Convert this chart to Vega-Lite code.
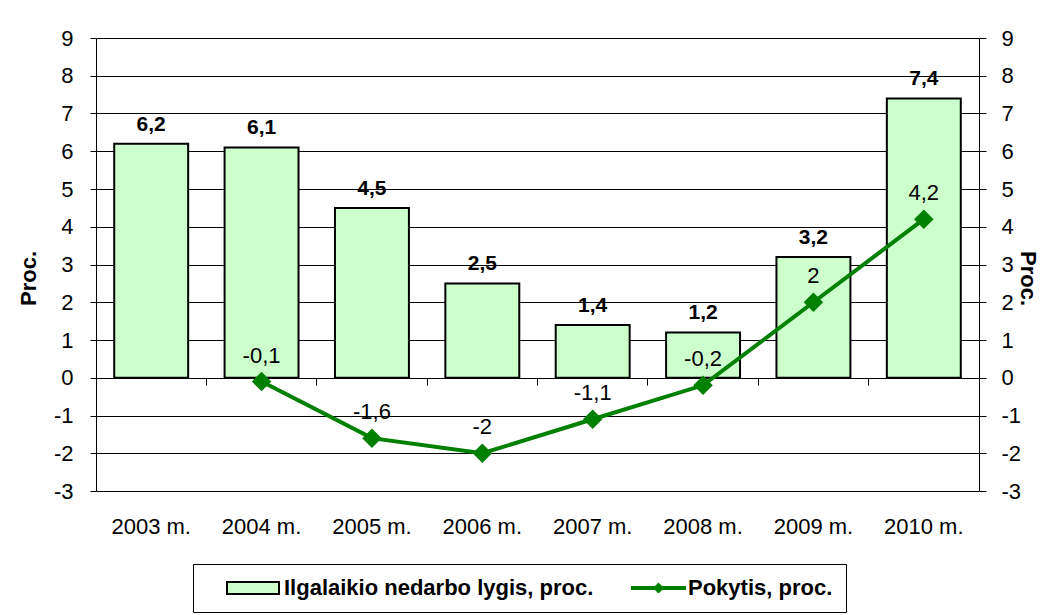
{
  "$schema": "https://vega.github.io/schema/vega-lite/v6.json",
  "width": 883,
  "height": 453,
  "autosize": "none",
  "padding": {"left": 96, "top": 38, "right": 65, "bottom": 124},
  "background": "white",
  "config": {
    "font": "Liberation Sans",
    "view": {"stroke": null},
    "locale": {"number": {"decimal": ",", "thousands": " ", "grouping": [3], "currency": ["", ""], "minus": "-"}},
    "axis": {"labelFont": "Liberation Sans", "titleFont": "Liberation Sans", "labelColor": "black", "titleColor": "black", "tickColor": "black", "domainColor": "black", "domainWidth": 1, "tickWidth": 1}
  },
  "data": {
    "values": [
      {"metai": "2003 m.", "lygis": 6.2, "pokytis": null},
      {"metai": "2004 m.", "lygis": 6.1, "pokytis": -0.1},
      {"metai": "2005 m.", "lygis": 4.5, "pokytis": -1.6},
      {"metai": "2006 m.", "lygis": 2.5, "pokytis": -2},
      {"metai": "2007 m.", "lygis": 1.4, "pokytis": -1.1},
      {"metai": "2008 m.", "lygis": 1.2, "pokytis": -0.2},
      {"metai": "2009 m.", "lygis": 3.2, "pokytis": 2},
      {"metai": "2010 m.", "lygis": 7.4, "pokytis": 4.2}
    ]
  },
  "layer": [
    {
      "mark": {"type": "bar", "stroke": "black", "strokeWidth": 2, "width": {"band": 0.67}},
      "encoding": {
        "x": {"field": "metai", "type": "nominal", "sort": null,
          "scale": {"paddingInner": 0, "paddingOuter": 0},
          "axis": {"orient": "bottom", "title": null, "domain": false, "ticks": false, "grid": false, "labelAngle": 0, "labelFontSize": 22, "labelPadding": 25}},
        "y": {"field": "lygis", "type": "quantitative",
          "scale": {"domain": [-3, 9], "nice": false},
          "axis": {"orient": "left", "title": "Proc.", "values": [-3, -2, -1, 0, 1, 2, 3, 4, 5, 6, 7, 8, 9],
            "grid": true, "gridColor": "black", "gridOpacity": 1, "gridWidth": 1,
            "tickSize": 6, "labelPadding": 17, "labelFontSize": 22,
            "titleFontSize": 22, "titleFontWeight": "bold", "titleX": -68, "titleY": 240, "titleAngle": -90, "titleBaseline": "middle", "titleAlign": "center"}},
        "color": {"datum": "Ilgalaikio nedarbo lygis, proc.", "type": "nominal",
          "scale": {"domain": ["Ilgalaikio nedarbo lygis, proc.", "Pokytis, proc."], "range": ["#ccffcc", "#008000"]},
          "legend": {"orient": "none", "legendX": 97, "legendY": 526, "direction": "horizontal", "columns": 2, "title": null,
            "labelFontSize": 22, "labelFontWeight": "bold", "labelFont": "Liberation Sans", "labelColor": "black", "labelLimit": 500,
            "symbolSize": 400, "strokeColor": "black", "padding": 13, "columnPadding": 16, "labelOffset": 56,
            "symbolType": {"expr": "datum.value === 'Pokytis, proc.' ? 'M1,-0.2H6.5V0.2H1Z M3.75,-0.55L4.3,0L3.75,0.55L3.2,0Z' : 'M1,-0.6H6.2V0.6H1Z'"},
            "symbolStrokeColor": {"expr": "datum.value === 'Pokytis, proc.' ? 'transparent' : 'black'"},
            "symbolStrokeWidth": {"expr": "datum.value === 'Pokytis, proc.' ? 0 : 2"},
            "symbolOpacity": 1}}
      }
    },
    {
      "mark": {"type": "text", "fontWeight": "bold", "fontSize": 21, "dy": -19, "baseline": "middle", "color": "black"},
      "encoding": {
        "x": {"field": "metai", "type": "nominal", "sort": null, "axis": null},
        "y": {"field": "lygis", "type": "quantitative", "axis": null},
        "text": {"field": "lygis", "type": "quantitative", "format": ".1f"}
      }
    },
    {
      "transform": [{"filter": "datum.pokytis != null"}],
      "mark": {"type": "line", "color": "#008000", "strokeWidth": 4, "point": {"shape": "diamond", "size": 380, "filled": true, "color": "#008000"}},
      "encoding": {
        "x": {"field": "metai", "type": "nominal", "sort": null,
          "axis": {"orient": "bottom", "offset": -113, "labels": false, "ticks": true, "tickSize": 7, "bandPosition": 0, "domain": true, "title": null, "grid": false}},
        "y": {"field": "pokytis", "type": "quantitative",
          "axis": {"orient": "right", "title": "Proc.", "values": [-3, -2, -1, 0, 1, 2, 3, 4, 5, 6, 7, 8, 9], "grid": false,
            "tickSize": 7, "labelPadding": 15, "labelFontSize": 22,
            "titleFontSize": 22, "titleFontWeight": "bold", "titleX": 48, "titleY": 240, "titleAngle": 90, "titleBaseline": "middle", "titleAlign": "center"}}
      }
    },
    {
      "transform": [{"filter": "datum.pokytis != null"}],
      "mark": {"type": "text", "fontSize": 22, "dy": -26, "baseline": "middle", "color": "black"},
      "encoding": {
        "x": {"field": "metai", "type": "nominal", "sort": null, "axis": null},
        "y": {"field": "pokytis", "type": "quantitative", "axis": null},
        "text": {"field": "pokytis", "type": "quantitative", "format": ".1~f"}
      }
    }
  ],
  "resolve": {"axis": {"x": "independent", "y": "independent"}}
}
